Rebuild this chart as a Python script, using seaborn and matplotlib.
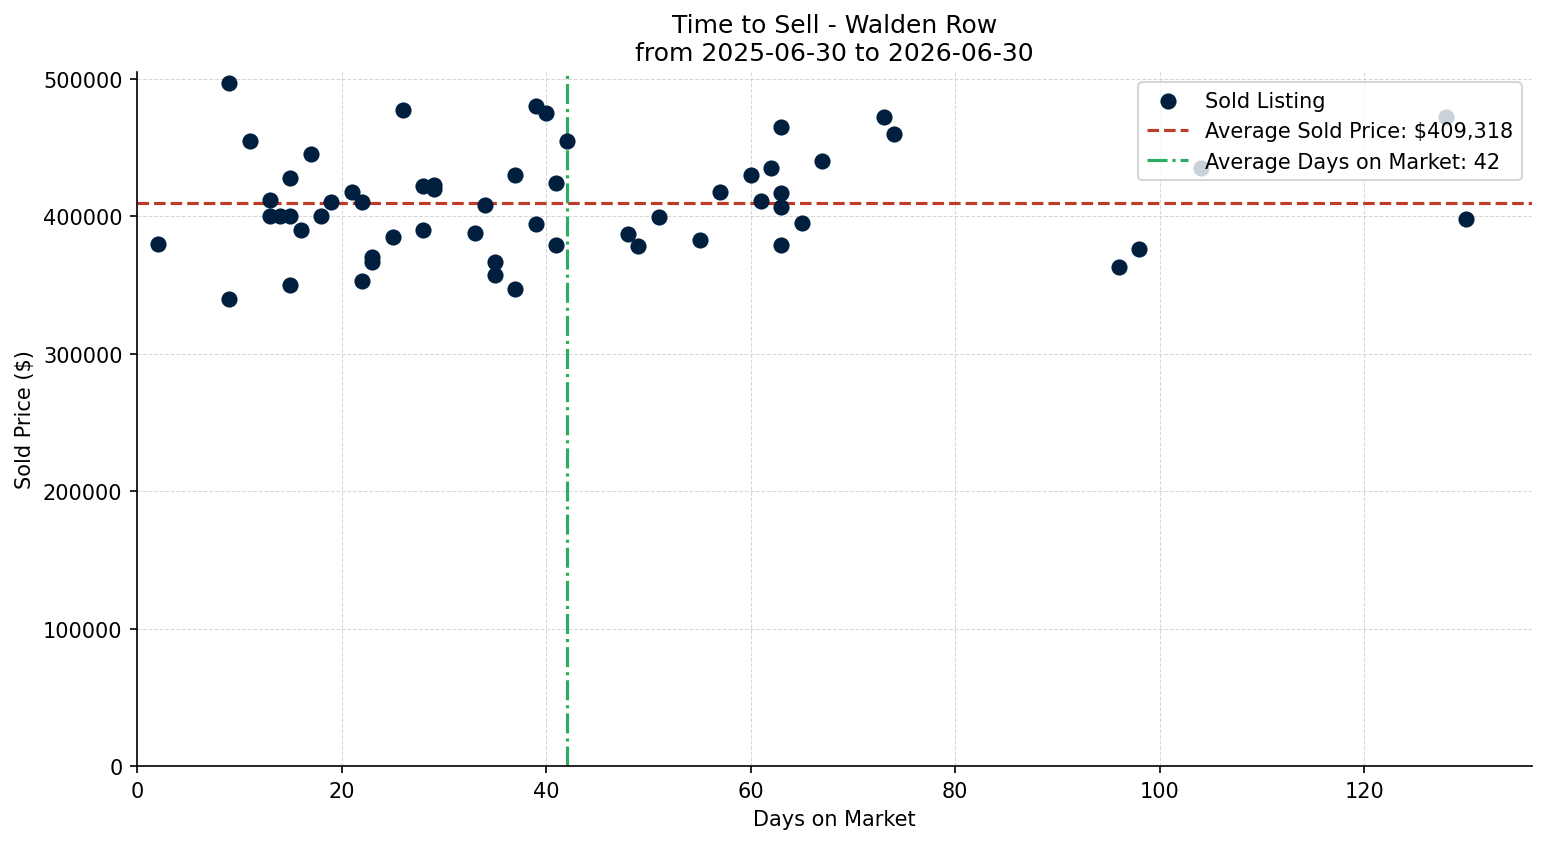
import pandas as pd
import seaborn as sns
import matplotlib.pyplot as plt

# days on market / sold price for each sold listing
days = [2, 9, 9, 11, 13, 13, 14, 15, 15, 15, 16, 17, 18, 19, 21, 22, 22, 23, 23, 25,
        26, 28, 28, 29, 29, 33, 34, 35, 35, 37, 37, 39, 39, 40, 41, 41, 42, 48, 49, 51,
        55, 57, 60, 61, 62, 63, 63, 63, 63, 65, 67, 73, 74, 96, 98, 104, 128, 130]
prices = [380000, 497000, 340000, 455000, 412000, 400000, 400000, 400000, 428000, 350000,
          390000, 445000, 400000, 410000, 417500, 410000, 353000, 370000, 367000, 385000,
          477000, 422000, 390000, 423000, 420000, 388000, 408000, 367000, 357000, 430000,
          347000, 480000, 394000, 475000, 424000, 379000, 455000, 387000, 378000, 399500,
          383000, 417500, 430000, 411000, 435000, 465000, 417000, 406500, 379000, 395000,
          440000, 472000, 460000, 363000, 376000, 435000, 472000, 398000]

avg_price = 409318
avg_days = 42

df = pd.DataFrame({"Days on Market": days, "Sold Price": prices})

fig, ax = plt.subplots(figsize=(10.313, 5.633), dpi=150)
fig.subplots_adjust(left=0.0886, right=0.9903, top=0.9136, bottom=0.0923)

sns.scatterplot(data=df, x="Days on Market", y="Sold Price", ax=ax,
                color="#001f3f", s=60, linewidth=0, label="Sold Listing", zorder=3)
ax.axhline(avg_price, color="#c0392b", linestyle="--", linewidth=1.5,
           label=f"Average Sold Price: ${avg_price:,}")
ax.axvline(avg_days, color="#27ae60", linestyle="-.", linewidth=1.5,
           label=f"Average Days on Market: {avg_days}")

ax.set_xlim(left=0)
ax.set_ylim(bottom=0)
ax.grid(True, linestyle="--", linewidth=0.5, color="lightgray", alpha=0.9)
ax.set_axisbelow(True)
sns.despine(ax=ax)

ax.set_title("Time to Sell - Walden Row\nfrom 2025-06-30 to 2026-06-30", fontsize=12)
ax.set_xlabel("Days on Market")
ax.set_ylabel("Sold Price ($)")
ax.legend(loc="upper right")

plt.savefig("out.png", dpi=150)
